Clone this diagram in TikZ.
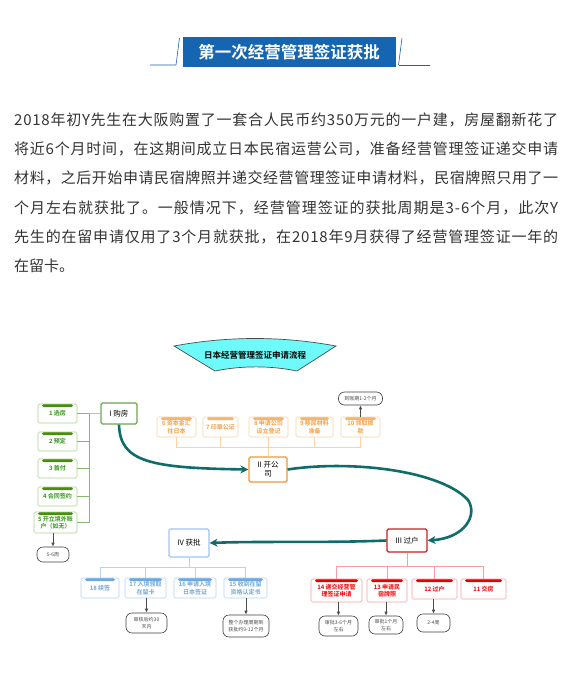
\documentclass[tikz,border=0pt]{standalone}
\usepackage{fontspec}
\setmainfont{Noto Sans CJK SC}[BoldFont={Noto Sans CJK SC Bold}]
\usetikzlibrary{arrows.meta}

\definecolor{hdrblue}{RGB}{22,101,176}
\definecolor{bodygray}{RGB}{51,51,51}
\definecolor{flowteal}{RGB}{14,108,106}
\definecolor{banner}{RGB}{110,250,250}
\definecolor{grtext}{RGB}{52,150,24}
\definecolor{grbar}{RGB}{74,140,16}
\definecolor{grline}{RGB}{170,210,140}
\definecolor{grmain}{RGB}{106,168,79}
\definecolor{ortext}{RGB}{246,160,70}
\definecolor{orbar}{RGB}{248,180,110}
\definecolor{orline}{RGB}{252,210,165}
\definecolor{ormain}{RGB}{243,150,50}
\definecolor{rdtext}{RGB}{240,0,0}
\definecolor{rdbar}{RGB}{235,0,0}
\definecolor{rdline}{RGB}{245,160,160}
\definecolor{rdmain}{RGB}{204,30,30}
\definecolor{bltext}{RGB}{111,168,220}
\definecolor{blbar}{RGB}{111,168,220}
\definecolor{blline}{RGB}{180,211,245}
\definecolor{blmain}{RGB}{159,197,248}

% spread one line of text over the full width
\def\spreadit#1{#1\spreadnext}
\def\spreadnext#1{\ifx#1\relax\else\hskip0pt plus1fil #1\expandafter\spreadnext\fi}
\newcommand\fullline[1]{\makebox[544pt][s]{\spreadit#1\relax}}

\tikzset{
  paraline/.style={anchor=west,inner sep=0pt,text=bodygray,
    font=\fontsize{15}{18}\selectfont},
  mainbox/.style={draw=#1,line width=1.2pt,rounded corners=1.5pt,fill=white,
    align=center,inner sep=1pt,font=\fontsize{7.5}{9}\selectfont,text=black},
  subbox/.style 2 args={draw=#1,line width=0.6pt,rounded corners=1.5pt,fill=white,
    align=center,inner sep=1pt,font=\bfseries\fontsize{6}{7.5}\selectfont,text=#2},
  topbar/.style={path picture={\fill[#1]
    ([xshift=4pt]path picture bounding box.north west) rectangle
    ([xshift=-4pt,yshift=-3pt]path picture bounding box.north east);}},
  note/.style={draw=black!75,line width=0.6pt,rounded corners=6pt,fill=white,
    align=center,inner sep=1pt,font=\fontsize{5}{6.5}\selectfont,text=black!70},
  flow/.style={draw=flowteal,line width=2.6pt,-{Stealth[length=8pt,width=8pt]}},
  noteline/.style={draw=black!70,line width=0.8pt,-{Latex[length=4pt,width=3.5pt]}},
}

\begin{document}
\begin{tikzpicture}[x=1pt,y=-1pt]
  \useasboundingbox[fill=white] (0,0) rectangle (572,688);

  % header
  \draw[hdrblue,line width=0.6pt] (150,65) -- (176,65) -- (179.5,38);
  \draw[hdrblue,line width=0.6pt] (398.5,65) -- (402,38);
  \draw[hdrblue,line width=0.6pt] (398.5,65) -- (430,65);
  \node[fill=hdrblue,minimum width=213pt,minimum height=30pt,inner sep=0pt,
    text=white,font=\bfseries\fontsize{16.5}{19}\selectfont] (hdr) at (289,52) {第一次经营管理签证获批};

  % paragraph
  \node[paraline] (p1) at (14,120) {\fullline{2018年初Y先生在大阪购置了一套合人民币约350万元的一户建，房屋翻新花了}};
  \node[paraline] (p2) at (14,149.2) {\fullline{将近6个月时间，在这期间成立日本民宿运营公司，准备经营管理签证递交申请}};
  \node[paraline] (p3) at (14,178.4) {\fullline{材料，之后开始申请民宿牌照并递交经营管理签证申请材料，民宿牌照只用了一}};
  \node[paraline] (p4) at (14,207.6) {\fullline{个月左右就获批了。一般情况下，经营管理签证的获批周期是3-6个月，此次Y}};
  \node[paraline] (p5) at (14,236.8) {\fullline{先生的在留申请仅用了3个月就获批，在2018年9月获得了经营管理签证一年的}};
  \node[paraline] (p6) at (14,266) {在留卡。};

  % banner title
  \draw[fill=banner,draw=black!70,line width=0.7pt] (174,346) .. controls (228,336) and (282,336) .. (336,346)
    -- (297,371) .. controls (270,365.5) and (242,365.5) .. (215,371) -- cycle;
  \node[font=\bfseries\fontsize{8.5}{10}\selectfont,inner sep=0pt] (ttl) at (255,355) {日本经营管理签证申请流程};

  % I
  \node[mainbox=grmain,minimum width=36pt,minimum height=21pt] (buy) at (119,413.5) {I 购房};
  \node[subbox={grline}{grtext},topbar=grbar,minimum width=39pt,minimum height=19pt] (g1) at (57.5,413.5) {1 选房};
  \node[subbox={grline}{grtext},topbar=grbar,minimum width=39pt,minimum height=19pt] (g2) at (57.5,441.5) {2 预定};
  \node[subbox={grline}{grtext},topbar=grbar,minimum width=39pt,minimum height=19pt] (g3) at (57.5,468.5) {3 首付};
  \node[subbox={grline}{grtext},topbar=grbar,minimum width=39pt,minimum height=19pt] (g4) at (57.5,496.5) {4 合同签约};
  \node[subbox={grline}{grtext},topbar=grbar,minimum width=43pt,minimum height=21pt] (g5) at (55.5,522.5) {5 开立境外账\\户（如无）};
  \node[note,minimum width=32pt,minimum height=15pt] (gn) at (53,554.5) {5-6周};
  \coordinate (gs) at (89,413.5);
  \draw[grline,line width=0.8pt] (buy.west) -- (gs);
  \draw[grmain!80,line width=0.8pt] (gs) |- (g5.east);
  \foreach \k in {g1,g2,g3,g4}
    \draw[grmain!80,line width=0.8pt] (gs |- \k.east) -- (\k.east);
  \draw[noteline] (g5.south -| gn.north) -- (gn.north);

  % II
  \node[mainbox=ormain,minimum width=38pt,minimum height=25pt] (open) at (268,469.5) {II 开公\\司};
  \node[subbox={orline}{ortext},topbar=orbar,minimum width=39pt,minimum height=20pt] (o6) at (176.5,427) {6 资本金汇\\往日本};
  \node[subbox={orline}{ortext},topbar=orbar,minimum width=35pt,minimum height=20pt] (o7) at (220.5,427) {7 印章公证};
  \node[subbox={orline}{ortext},topbar=orbar,minimum width=39pt,minimum height=20pt] (o8) at (268.5,427) {8 申请公司\\设立登记};
  \node[subbox={orline}{ortext},topbar=orbar,minimum width=37pt,minimum height=20pt] (o9) at (314.5,427) {9 移民材料\\准备};
  \node[subbox={orline}{ortext},topbar=orbar,minimum width=39pt,minimum height=20pt] (o10) at (360.5,427) {10 领取拨\\款};
  \node[note,minimum width=44pt,minimum height=13pt] (on) at (360.5,398.5) {到账期1-2个月};
  \coordinate (ob) at (268,447);
  \draw[orline,line width=0.8pt] (open.north) -- (ob);
  \draw[orline,line width=0.8pt] (o6.south) -- (o6.south |- ob) -- (o10.south |- ob) -- (o10.south);
  \foreach \k in {o7,o8,o9}
    \draw[orline,line width=0.8pt] (\k.south) -- (\k.south |- ob);
  \draw[noteline] (o10.north) -- (on.south);

  % III
  \node[mainbox=rdmain,minimum width=40pt,minimum height=23pt] (xfer) at (407,540.5) {III 过户};
  \node[subbox={rdline}{rdtext},topbar=rdbar,minimum width=51pt,minimum height=23pt] (r14) at (336.5,590.5) {14 递交经营管\\理签证申请};
  \node[subbox={rdline}{rdtext},topbar=rdbar,minimum width=40pt,minimum height=23pt] (r13) at (387,590.5) {13 申请民\\宿牌照};
  \node[subbox={rdline}{rdtext},topbar=rdbar,minimum width=45pt,minimum height=20pt] (r12) at (434.5,589) {12 过户};
  \node[subbox={rdline}{rdtext},topbar=rdbar,minimum width=45pt,minimum height=20pt] (r11) at (483.5,589) {11 交房};
  \node[note,minimum width=39pt,minimum height=20pt] (rn14) at (338.5,626) {审批3-6个月\\左右};
  \node[note,minimum width=34pt,minimum height=18pt] (rn13) at (386,625) {审批1个月\\左右};
  \node[note,minimum width=33pt,minimum height=18pt] (rn12) at (433.5,623) {2-4周};
  \coordinate (rb) at (407,566);
  \draw[rdline,line width=0.8pt] (xfer.south) -- (rb);
  \draw[rdline,line width=0.8pt] (r14.north) -- (r14.north |- rb) -- (r11.north |- rb) -- (r11.north);
  \foreach \k in {r13,r12}
    \draw[rdline,line width=0.8pt] (\k.north) -- (\k.north |- rb);
  \draw[noteline] (r14.south -| rn14.north) -- (rn14.north);
  \draw[noteline] (r13.south -| rn13.north) -- (rn13.north);
  \draw[noteline] (r12.south -| rn12.north) -- (rn12.north);

  % IV
  \node[mainbox=blmain,minimum width=40pt,minimum height=28pt] (done) at (189,543) {IV 获批};
  \node[subbox={blline}{bltext},topbar=blbar,minimum width=38pt,minimum height=20pt] (b18) at (100,588) {18 续签};
  \node[subbox={blline}{bltext},topbar=blbar,minimum width=41pt,minimum height=20pt] (b17) at (145.5,588) {17 入境领取\\在留卡};
  \node[subbox={blline}{bltext},topbar=blbar,minimum width=42pt,minimum height=20pt] (b16) at (195,588) {16 申请入境\\日本签证};
  \node[subbox={blline}{bltext},topbar=blbar,minimum width=43pt,minimum height=20pt] (b15) at (245.5,588) {15 收到在留\\资格认定书};
  \node[note,minimum width=41pt,minimum height=20pt] (bn17) at (146.5,623) {审核后约30\\天内};
  \node[note,minimum width=46pt,minimum height=22pt] (bn15) at (246,626) {整个办理周期到\\获批约9-12个月};
  \coordinate (bb) at (189,567);
  \draw[blline,line width=0.8pt] (done.south) -- (bb);
  \draw[blline,line width=0.8pt] (b18.north) -- (b18.north |- bb) -- (b15.north |- bb) -- (b15.north);
  \foreach \k in {b17,b16}
    \draw[blline,line width=0.8pt] (\k.north) -- (\k.north |- bb);
  \draw[noteline] (b17.south -| bn17.north) -- (bn17.north);
  \draw[noteline] (b15.south -| bn15.north) -- (bn15.north);

  % main flow
  \draw[flow] (buy.south) .. controls (120,462) and (150,468) .. (open.west);
  \draw[flow] (open.east) .. controls (350,460) and (440,470) .. (468,500)
    .. controls (478,515) and (465,538) .. (xfer.east);
  \draw[flow] (xfer.west) .. controls (330,543) and (260,541) .. (done.east);
\end{tikzpicture}
\end{document}
